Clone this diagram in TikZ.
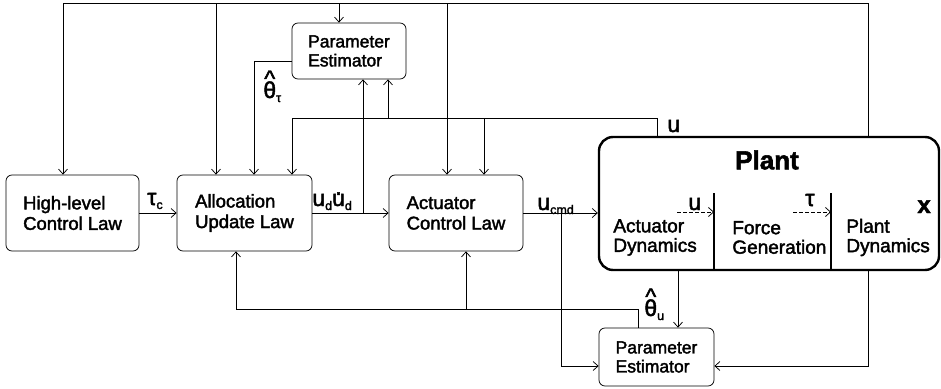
\documentclass[tikz,border=0pt]{standalone}
\usepackage{fontspec}
\setmainfont{Liberation Sans}[FakeBold=2]
\usetikzlibrary{arrows.meta}

\newcommand{\lowsub}[1]{\raisebox{-4pt}{\fontsize{12.5}{12.5}\selectfont #1}}
\newcommand{\thetahat}{\leavevmode\vbox{\offinterlineskip
    \halign{\hfil##\hfil\cr \textasciicircum\cr\noalign{\kern-5pt}θ\cr}}}
\newcommand{\udot}{\leavevmode\vbox{\offinterlineskip
    \halign{\hfil##\hfil\cr .\cr\noalign{\kern-1pt}u\cr}}}

\tikzset{
    blk/.style={draw, rounded corners=6pt, align=left,
        font=\fontsize{18.5}{20.5}\selectfont},
    plantbox/.style={draw, line width=2.4pt, rounded corners=14pt, fill=white},
    intxt/.style={anchor=west, align=left, inner sep=0pt,
        font=\fontsize{19}{19.5}\selectfont},
    lbl/.style={anchor=base west, inner sep=0pt,
        font=\fontsize{23}{23}\selectfont},
    divider/.style={line width=2pt},
}

\begin{document}
\begin{tikzpicture}[>={Straight Barb[length=5pt,width=9pt]}, line width=0.75pt]
\useasboundingbox (0,0) rectangle (941pt,-388pt);

% Controller blocks
\node (hl) [blk,
    minimum width=133pt,
    minimum height=76pt,
    xshift=72.5pt,
    yshift=-213pt
] {High-level\\Control Law};

\node (alloc) [blk,
    minimum width=135pt,
    minimum height=76pt,
    xshift=244.5pt,
    yshift=-213pt
] {Allocation\\Update Law};

\node (act) [blk,
    minimum width=134pt,
    minimum height=76pt,
    xshift=456pt,
    yshift=-213pt
] {Actuator\\Control Law};

% Estimators
\node (petau) [blk,
    font=\fontsize{17.5}{19}\selectfont,
    minimum width=114pt,
    minimum height=56pt,
    xshift=349pt,
    yshift=-51pt
] {Parameter\\Estimator};

\node (peu) [blk,
    font=\fontsize{17.5}{19}\selectfont,
    minimum width=115pt,
    minimum height=58pt,
    xshift=656.5pt,
    yshift=-357pt
] {Parameter\\Estimator};

% Plant
\node (plant) [plantbox,
    minimum width=340pt,
    minimum height=133pt,
    xshift=769pt,
    yshift=-203.5pt
] {};
\node (plantttl) [
    font=\fontsize{26}{26}\selectfont\bfseries,
    xshift=767pt,
    yshift=-160pt
] {Plant};

\node (actdyn) [intxt, xshift=613pt, yshift=-237.5pt] {Actuator\\Dynamics};
\node (forcegen) [intxt, xshift=732pt, yshift=-237.5pt] {Force\\Generation};
\node (plantdyn) [intxt, xshift=846pt, yshift=-237.5pt] {Plant\\Dynamics};

% taps
\coordinate (xtap) at (868pt,-3pt);
\coordinate (utap) at (657pt,-118pt);
\coordinate (udtap) at (363pt,-213pt);
\coordinate (cmdtap) at (561pt,-213pt);
\coordinate (thu) at (638pt,-309pt);
\coordinate (uout) at (678pt,-270pt);
\coordinate (div1) at (714pt,-193pt);
\coordinate (div2) at (831pt,-193pt);
\coordinate (da1) at (677pt,-212pt);
\coordinate (da2) at (793pt,-212pt);

% state feedback x
\draw [->] (plant.north -| xtap) -- (xtap) -| ([xshift=-9.5pt]hl.north);
\draw [->] (xtap) -| ([xshift=-28.5pt]alloc.north);
\draw [->] (xtap) -| ([xshift=-10pt]petau.north);
\draw [->] (xtap) -| ([xshift=-9pt]act.north);
\draw [->] (plant.south -| xtap) |- ([yshift=-9pt]peu.east);

% actuator state u
\draw [->] (plant.north -| utap) -- (utap) -| ([xshift=47.5pt]alloc.north);
\draw [->] (utap) -| ([xshift=28pt]act.north);
\draw [->] (utap) -| ([xshift=39pt]petau.south);

% theta_tau
\draw [->] ([yshift=-10pt]petau.west) -| ([xshift=9.5pt]alloc.north);

% forward path
\draw [->] (hl.east) -- (alloc.west);
\draw [->] (alloc.east) -- (act.west);
\draw [->] (udtap) -- (udtap |- petau.south);
\draw [->] (act.east) -- (act.east -| plant.west);
\draw [->] (cmdtap) |- ([yshift=-9pt]peu.west);
\draw [->] (uout) -- (uout |- peu.north);

% theta_u
\draw [->] (thu |- peu.north) -- (thu) -| ([xshift=-8.5pt]alloc.south);
\draw [->] (thu) -| ([xshift=10pt]act.south);

% inside the plant
\draw [divider] (div1) -- (div1 |- plant.south);
\draw [divider] (div2) -- (div2 |- plant.south);
\draw [->, dash pattern=on 3.5pt off 2.5pt] (da1) -- (da1 -| div1);
\draw [->, dash pattern=on 3.5pt off 2.5pt] (da2) -- (da2 -| div2);

% labels
\node (tauc) [lbl, xshift=147pt, yshift=-205pt] {τ\lowsub{c}};
\node (udlbl) [lbl, xshift=312pt, yshift=-206pt] {u\lowsub{d}\udot\lowsub{d}};
\node (ucmd) [lbl, xshift=537pt, yshift=-210pt] {u\lowsub{cmd}};
\node (thtau) [lbl, xshift=263pt, yshift=-98pt] {\thetahat\lowsub{τ}};
\node (thul) [lbl, xshift=644pt, yshift=-316pt] {\thetahat\lowsub{u}};
\node (ulbl) [lbl, xshift=667pt, yshift=-132pt] {u};
\node (uin) [lbl, xshift=688pt, yshift=-210pt] {u};
\node (tauin) [lbl, xshift=805pt, yshift=-206pt] {τ};
\node (xlbl) [lbl, font=\fontsize{24}{24}\selectfont\bfseries, xshift=917pt, yshift=-213pt] {x};

\end{tikzpicture}
\end{document}
